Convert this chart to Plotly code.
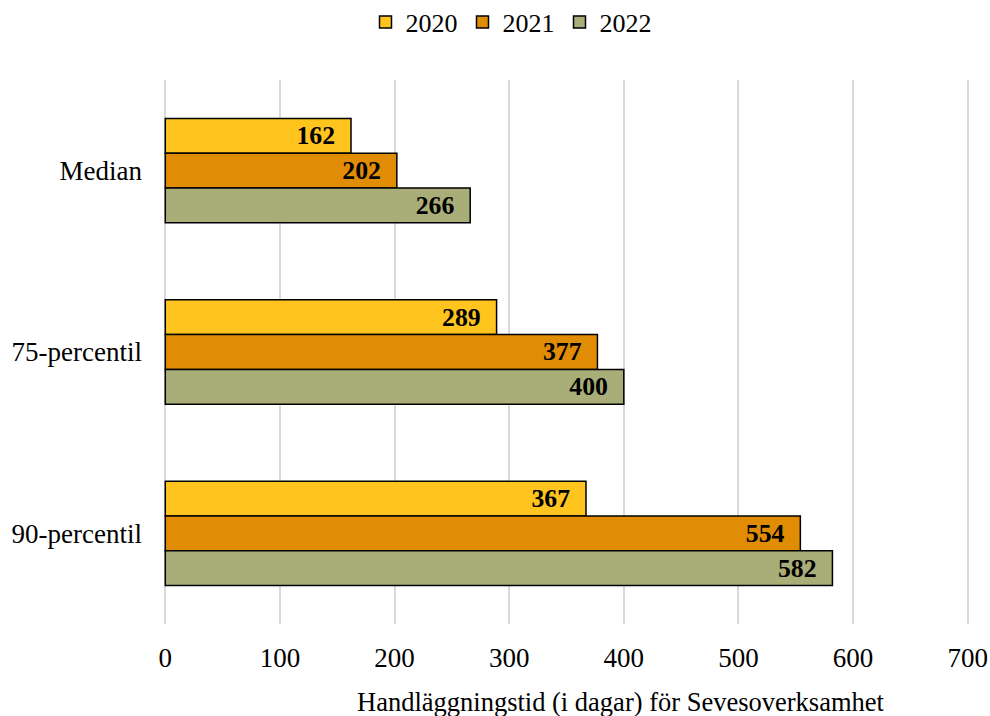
import plotly.graph_objects as go

categories = ["Median", "75-percentil", "90-percentil"]
years = ["2020", "2021", "2022"]
values_2020 = [162, 289, 367]
values_2021 = [202, 377, 554]
values_2022 = [266, 400, 582]
colors = ["#FFC41E", "#E08C05", "#A9AD78"]
x_ticks = [0, 100, 200, 300, 400, 500, 600, 700]

FONT = "Liberation Serif, Times New Roman, serif"

W, H = 990, 716
X0, X700 = 165, 967          # pixel positions of 0 and 700
PAD = 2                      # extra data units on each side so edge gridlines show
scale = (X700 - X0) / 700
L = round(X0 - PAD * scale)
PW = round((700 + 2 * PAD) * scale)
T, PH = 80, 544

fig = go.Figure()
for name, vals, col in zip(years, [values_2020, values_2021, values_2022], colors):
    fig.add_trace(go.Bar(
        y=categories, x=vals, name=name, orientation="h",
        marker=dict(color=col, line=dict(color="black", width=1.5)),
        text=[str(v) for v in vals], textposition="inside",
        insidetextanchor="end",
        textfont=dict(family=FONT, size=26, color="black", weight="bold"),
        texttemplate="<b>%{text}</b>\u00a0\u00a0",
    ))

fig.update_layout(
    width=W, height=H,
    barmode="group", bargap=0.425, bargroupgap=0,
    plot_bgcolor="white", paper_bgcolor="white",
    margin=dict(l=L, r=W - L - PW, t=T, b=H - T - PH, autoexpand=False),
    font=dict(family=FONT, size=26, color="black"),
    legend=dict(orientation="h", x=(511 - L) / PW, xanchor="center", y=1 + 58 / PH,
                yanchor="middle",
                font=dict(family=FONT, size=26, color="black"), itemwidth=30,
                traceorder="normal", bgcolor="rgba(0,0,0,0)"),
    xaxis=dict(range=[-PAD, 700 + PAD], tickvals=x_ticks, showgrid=True,
               gridcolor="#D9D9D9", gridwidth=2, zeroline=False, showline=False,
               automargin=False, ticklabeloverflow="allow",
               tickfont=dict(family=FONT, size=27), ticks="", ticklabelstandoff=15),
    yaxis=dict(autorange="reversed", showgrid=False, showline=False, ticks="",
               automargin=False,
               tickfont=dict(family=FONT, size=27), ticklabelstandoff=20),
    uniformtext=dict(mode=False),
    annotations=[dict(text="Handläggningstid (i dagar) för Sevesoverksamhet",
                      x=(621 - L) / PW, xref="paper", y=-(702 - 624) / PH, yref="paper",
                      showarrow=False, font=dict(family=FONT, size=26.5),
                      xanchor="center", yanchor="middle")],
)

fig.write_html("out.html", config={"displayModeBar": False},
               post_script="document.body.style.margin='0';document.body.style.overflow='hidden';")
